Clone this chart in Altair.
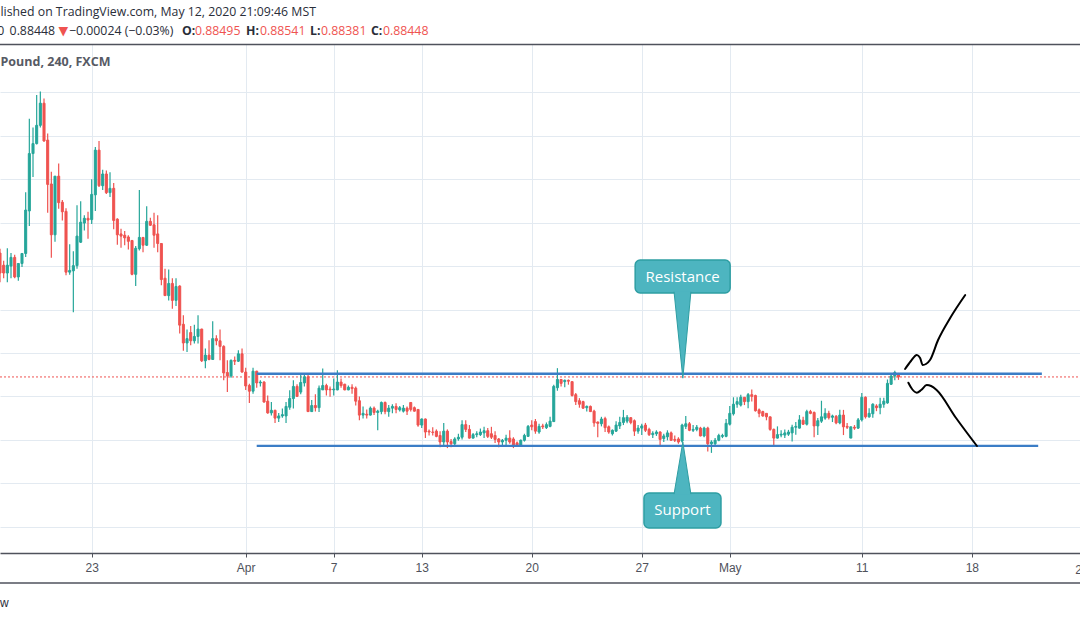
import altair as alt
import pandas as pd

# ---------------- candle data (EURGBP 4h, index = candle number) ----------------
opens = [
    0.9130, 0.9102, 0.9084, 0.9100, 0.9120, 0.9075, 0.9106, 0.9129, 0.9227, 0.9359,
    0.9382, 0.9424, 0.9475, 0.9390, 0.9289, 0.9172, 0.9307, 0.9247, 0.9226, 0.9086,
    0.9089, 0.9101, 0.9155, 0.9199, 0.9210, 0.9207, 0.9264, 0.9367, 0.9285, 0.9312,
    0.9269, 0.9279, 0.9208, 0.9174, 0.9171, 0.9167, 0.9159, 0.9081, 0.9140, 0.9166,
    0.9148, 0.9203, 0.9195, 0.9174, 0.9152, 0.9072, 0.9032, 0.9060, 0.9021, 0.9054,
    0.8966, 0.8923, 0.8947, 0.8928, 0.8938, 0.8955, 0.8882, 0.8895, 0.8885, 0.8933,
    0.8928, 0.8915, 0.8855, 0.8847, 0.8883, 0.8881, 0.8898, 0.8856, 0.8825, 0.8812,
    0.8858, 0.8831, 0.8833, 0.8789, 0.8762, 0.8768, 0.8750, 0.8755, 0.8755, 0.8775,
    0.8795, 0.8823, 0.8810, 0.8831, 0.8845, 0.8765, 0.8779, 0.8774, 0.8815, 0.8825,
    0.8817, 0.8815, 0.8815, 0.8833, 0.8828, 0.8815, 0.8821, 0.8819, 0.8790, 0.8757,
    0.8759, 0.8757, 0.8773, 0.8763, 0.8765, 0.8786, 0.8765, 0.8773, 0.8777, 0.8769,
    0.8766, 0.8773, 0.8786, 0.8774, 0.8770, 0.8734, 0.8748, 0.8720, 0.8718, 0.8720,
    0.8710, 0.8695, 0.8720, 0.8696, 0.8691, 0.8702, 0.8706, 0.8735, 0.8724, 0.8704,
    0.8712, 0.8712, 0.8716, 0.8721, 0.8714, 0.8710, 0.8702, 0.8695, 0.8699, 0.8704,
    0.8702, 0.8693, 0.8687, 0.8699, 0.8708, 0.8734, 0.8742, 0.8718, 0.8732, 0.8728,
    0.8731, 0.8742, 0.8820, 0.8839, 0.8834, 0.8837, 0.8834, 0.8804, 0.8790, 0.8788,
    0.8774, 0.8777, 0.8766, 0.8741, 0.8737, 0.8749, 0.8730, 0.8714, 0.8720, 0.8732,
    0.8740, 0.8743, 0.8751, 0.8744, 0.8720, 0.8727, 0.8734, 0.8724, 0.8712, 0.8714,
    0.8718, 0.8703, 0.8707, 0.8716, 0.8701, 0.8702, 0.8697, 0.8731, 0.8737, 0.8722,
    0.8724, 0.8727, 0.8709, 0.8727, 0.8691, 0.8691, 0.8699, 0.8708, 0.8708, 0.8736,
    0.8760, 0.8782, 0.8780, 0.8798, 0.8788, 0.8804, 0.8802, 0.8769, 0.8765, 0.8761,
    0.8753, 0.8724, 0.8704, 0.8711, 0.8711, 0.8713, 0.8716, 0.8729, 0.8727, 0.8745,
    0.8736, 0.8765, 0.8763, 0.8732, 0.8743, 0.8750, 0.8761, 0.8752, 0.8754, 0.8739,
    0.8757, 0.8731, 0.8704, 0.8729, 0.8727, 0.8746, 0.8798, 0.8753, 0.8760, 0.8778,
    0.8774, 0.8782, 0.8785, 0.8828, 0.8847, 0.88495,
]
highs = [
    0.9140, 0.9112, 0.9141, 0.9130, 0.9126, 0.9106, 0.9129, 0.9270, 0.9439, 0.9419,
    0.9494, 0.9502, 0.9486, 0.9405, 0.9317, 0.9307, 0.9336, 0.9252, 0.9233, 0.9150,
    0.9134, 0.9240, 0.9249, 0.9217, 0.9225, 0.9300, 0.9374, 0.9388, 0.9322, 0.9320,
    0.9316, 0.9291, 0.9210, 0.9186, 0.9181, 0.9171, 0.9160, 0.9146, 0.9275, 0.9167,
    0.9238, 0.9211, 0.9223, 0.9217, 0.9153, 0.9094, 0.9092, 0.9072, 0.9072, 0.9056,
    0.8987, 0.8954, 0.8962, 0.8965, 0.8987, 0.8956, 0.8910, 0.8929, 0.8973, 0.8941,
    0.8954, 0.8918, 0.8883, 0.8885, 0.8892, 0.8906, 0.8910, 0.8866, 0.8829, 0.8866,
    0.8859, 0.8837, 0.8835, 0.8802, 0.8787, 0.8769, 0.8762, 0.8772, 0.8787, 0.8814,
    0.8837, 0.8828, 0.8850, 0.8850, 0.8849, 0.8792, 0.8805, 0.8825, 0.8864, 0.8829,
    0.8823, 0.8841, 0.8860, 0.8841, 0.8829, 0.8825, 0.8828, 0.8823, 0.8800, 0.8777,
    0.8770, 0.8777, 0.8777, 0.8769, 0.8788, 0.8788, 0.8780, 0.8782, 0.8784, 0.8778,
    0.8780, 0.8777, 0.8786, 0.8777, 0.8770, 0.8749, 0.8749, 0.8724, 0.8729, 0.8724,
    0.8720, 0.8739, 0.8724, 0.8702, 0.8706, 0.8714, 0.8745, 0.8745, 0.8734, 0.8716,
    0.8720, 0.8726, 0.8730, 0.8727, 0.8730, 0.8720, 0.8704, 0.8702, 0.8712, 0.8722,
    0.8706, 0.8696, 0.8701, 0.8714, 0.8734, 0.8745, 0.8748, 0.8737, 0.8737, 0.8740,
    0.8753, 0.8827, 0.8865, 0.8840, 0.8839, 0.8839, 0.8834, 0.8808, 0.8796, 0.8790,
    0.8779, 0.8779, 0.8769, 0.8742, 0.8753, 0.8753, 0.8733, 0.8724, 0.8743, 0.8753,
    0.8769, 0.8757, 0.8752, 0.8747, 0.8734, 0.8737, 0.8739, 0.8728, 0.8720, 0.8722,
    0.8720, 0.8714, 0.8722, 0.8719, 0.8710, 0.8706, 0.8737, 0.8755, 0.8741, 0.8734,
    0.8734, 0.8730, 0.8730, 0.8730, 0.8699, 0.8704, 0.8714, 0.8714, 0.8748, 0.8778,
    0.8798, 0.8798, 0.8804, 0.8798, 0.8808, 0.8816, 0.8804, 0.8772, 0.8767, 0.8761,
    0.8753, 0.8726, 0.8731, 0.8722, 0.8724, 0.8723, 0.8735, 0.8741, 0.8757, 0.8753,
    0.8769, 0.8769, 0.8765, 0.8750, 0.8790, 0.8773, 0.8767, 0.8758, 0.8757, 0.8769,
    0.8769, 0.8739, 0.8730, 0.8734, 0.8750, 0.8808, 0.8800, 0.8773, 0.8784, 0.8782,
    0.8797, 0.8797, 0.8839, 0.8851, 0.8859, 0.88541,
]
lows = [
    0.9063, 0.9072, 0.9063, 0.9072, 0.9072, 0.9066, 0.9098, 0.9121, 0.9192, 0.9305,
    0.9380, 0.9419, 0.9386, 0.9223, 0.9119, 0.9156, 0.9232, 0.9205, 0.9079, 0.9080,
    0.8994, 0.9094, 0.9153, 0.9182, 0.9163, 0.9197, 0.9227, 0.9282, 0.9275, 0.9266,
    0.9259, 0.9185, 0.9149, 0.9142, 0.9148, 0.9138, 0.9079, 0.9054, 0.9136, 0.9132,
    0.9146, 0.9192, 0.9142, 0.9132, 0.9056, 0.9031, 0.9021, 0.9002, 0.9008, 0.8945,
    0.8905, 0.8902, 0.8918, 0.8922, 0.8922, 0.8879, 0.8865, 0.8883, 0.8884, 0.8918,
    0.8883, 0.8837, 0.8810, 0.8843, 0.8872, 0.8879, 0.8855, 0.8815, 0.8785, 0.8806,
    0.8820, 0.8823, 0.8786, 0.8760, 0.8756, 0.8739, 0.8741, 0.8751, 0.8739, 0.8769,
    0.8772, 0.8799, 0.8805, 0.8823, 0.8764, 0.8764, 0.8765, 0.8764, 0.8815, 0.8802,
    0.8799, 0.8802, 0.8814, 0.8820, 0.8814, 0.8814, 0.8806, 0.8779, 0.8745, 0.8749,
    0.8749, 0.8756, 0.8757, 0.8722, 0.8759, 0.8759, 0.8753, 0.8761, 0.8761, 0.8765,
    0.8763, 0.8757, 0.8765, 0.8765, 0.8730, 0.8727, 0.8704, 0.8710, 0.8710, 0.8706,
    0.8683, 0.8687, 0.8681, 0.8683, 0.8688, 0.8698, 0.8701, 0.8718, 0.8703, 0.8703,
    0.8706, 0.8709, 0.8704, 0.8704, 0.8702, 0.8693, 0.8683, 0.8685, 0.8686, 0.8691,
    0.8681, 0.8685, 0.8685, 0.8696, 0.8707, 0.8722, 0.8714, 0.8714, 0.8725, 0.8725,
    0.8729, 0.8741, 0.8813, 0.8823, 0.8821, 0.8827, 0.8800, 0.8780, 0.8774, 0.8771,
    0.8765, 0.8764, 0.8730, 0.8706, 0.8731, 0.8718, 0.8714, 0.8710, 0.8718, 0.8725,
    0.8734, 0.8738, 0.8736, 0.8709, 0.8714, 0.8711, 0.8718, 0.8709, 0.8704, 0.8709,
    0.8687, 0.8695, 0.8699, 0.8698, 0.8695, 0.8691, 0.8694, 0.8725, 0.8720, 0.8718,
    0.8720, 0.8708, 0.8706, 0.8673, 0.8670, 0.8685, 0.8697, 0.8704, 0.8706, 0.8733,
    0.8756, 0.8774, 0.8777, 0.8780, 0.8773, 0.8788, 0.8765, 0.8752, 0.8753, 0.8745,
    0.8721, 0.8687, 0.8703, 0.8706, 0.8704, 0.8709, 0.8696, 0.8712, 0.8726, 0.8734,
    0.8733, 0.8759, 0.8706, 0.8711, 0.8739, 0.8746, 0.8747, 0.8741, 0.8736, 0.8736,
    0.8711, 0.8725, 0.8704, 0.8723, 0.8725, 0.8742, 0.8749, 0.8751, 0.8751, 0.8766,
    0.8759, 0.8774, 0.8783, 0.8826, 0.8837, 0.88381,
]
closes = [
    0.9084, 0.9084, 0.9102, 0.9120, 0.9075, 0.9106, 0.9129, 0.9229, 0.9359, 0.9382,
    0.9424, 0.9475, 0.9388, 0.9288, 0.9172, 0.9307, 0.9246, 0.9225, 0.9086, 0.9090,
    0.9101, 0.9169, 0.9201, 0.9210, 0.9206, 0.9265, 0.9367, 0.9285, 0.9312, 0.9269,
    0.9279, 0.9205, 0.9172, 0.9169, 0.9165, 0.9157, 0.9081, 0.9141, 0.9166, 0.9148,
    0.9203, 0.9194, 0.9171, 0.9152, 0.9069, 0.9032, 0.9060, 0.9021, 0.9053, 0.8964,
    0.8923, 0.8933, 0.8928, 0.8938, 0.8955, 0.8882, 0.8895, 0.8885, 0.8933, 0.8928,
    0.8915, 0.8854, 0.8847, 0.8883, 0.8881, 0.8898, 0.8856, 0.8824, 0.8812, 0.8858,
    0.8831, 0.8833, 0.8787, 0.8762, 0.8768, 0.8750, 0.8755, 0.8758, 0.8777, 0.8795,
    0.8823, 0.8800, 0.8832, 0.8845, 0.8765, 0.8779, 0.8774, 0.8819, 0.8825, 0.8815,
    0.8815, 0.8817, 0.8833, 0.8825, 0.8815, 0.8821, 0.8818, 0.8789, 0.8757, 0.8761,
    0.8757, 0.8773, 0.8763, 0.8766, 0.8786, 0.8765, 0.8773, 0.8777, 0.8770, 0.8774,
    0.8773, 0.8766, 0.8770, 0.8766, 0.8734, 0.8748, 0.8718, 0.8718, 0.8717, 0.8708,
    0.8695, 0.8720, 0.8695, 0.8691, 0.8702, 0.8706, 0.8735, 0.8724, 0.8704, 0.8712,
    0.8714, 0.8718, 0.8721, 0.8708, 0.8706, 0.8701, 0.8695, 0.8699, 0.8704, 0.8695,
    0.8687, 0.8687, 0.8699, 0.8710, 0.8731, 0.8730, 0.8720, 0.8731, 0.8730, 0.8735,
    0.8743, 0.8823, 0.8839, 0.8830, 0.8837, 0.8835, 0.8802, 0.8788, 0.8782, 0.8773,
    0.8777, 0.8765, 0.8739, 0.8738, 0.8748, 0.8728, 0.8718, 0.8722, 0.8734, 0.8740,
    0.8751, 0.8752, 0.8740, 0.8720, 0.8727, 0.8732, 0.8722, 0.8712, 0.8715, 0.8718,
    0.8701, 0.8709, 0.8716, 0.8699, 0.8699, 0.8695, 0.8734, 0.8737, 0.8722, 0.8724,
    0.8729, 0.8709, 0.8727, 0.8691, 0.8695, 0.8699, 0.8710, 0.8710, 0.8738, 0.8761,
    0.8782, 0.8788, 0.8798, 0.8788, 0.8804, 0.8800, 0.8767, 0.8761, 0.8755, 0.8753,
    0.8724, 0.8704, 0.8712, 0.8713, 0.8716, 0.8718, 0.8729, 0.8731, 0.8746, 0.8736,
    0.8765, 0.8761, 0.8732, 0.8744, 0.8753, 0.8761, 0.8751, 0.8755, 0.8739, 0.8757,
    0.8730, 0.8729, 0.8730, 0.8727, 0.8746, 0.8798, 0.8753, 0.8761, 0.8782, 0.8774,
    0.8782, 0.8789, 0.8830, 0.8847, 0.8855, 0.88448,
]

# ---------------- axis / levels / drawings ----------------
tick_pos = [25, 67, 91, 115, 145, 175, 199, 235, 265, 295]
tick_labels = ["23", "Apr", "7", "13", "20", "27", "May", "11", "18", "25"]
grid_prices = [0.85, 0.86, 0.87, 0.88, 0.89, 0.90, 0.91, 0.92, 0.93, 0.94, 0.95]

last_price = 0.88448
level_names = ["Resistance", "Support"]
level_price = [0.8852, 0.8686]
level_start = [70.0, 70.0]
level_end = [284.1, 283.1]

box_k0 = [173.2, 175.6]
box_k1 = [199.1, 196.6]
box_p0 = [0.9038, 0.84971]
box_p1 = [0.9114, 0.85776]
label_k = [186.15, 186.1]
label_p = [0.9076, 0.85374]
ptr_base_p = [0.9041, 0.8575]
ptr_apex_p = [0.8842, 0.8695]
ptr_left_k = [183.8, 183.8]
ptr_right_k = [188.4, 188.4]
ptr_apex_k = [186.2, 186.2]

up_k = [246.8, 248.4, 250.0, 250.9, 251.6, 252.5, 253.6, 255.8, 259.1, 263.2]
up_p = [0.88631, 0.88815, 0.88953, 0.88884, 0.88723, 0.88746, 0.88838, 0.89298, 0.89805, 0.90334]
dn_k = [247.7, 248.7, 250.0, 251.2, 252.7, 253.9, 255.4, 260.7, 266.4]
dn_p = [0.88315, 0.88170, 0.88085, 0.88147, 0.88262, 0.88239, 0.88147, 0.87503, 0.86858]

TEAL = "#26a69a"
RED = "#ef5350"
GRID = "#e3eaf1"
BLUE = "#3b7dc6"
CALLOUT = "#4db5c0"
CALLOUT_EDGE = "#2e9ea3"
FONT = "Open Sans"

# ---------------- frames ----------------
n = len(opens)
candles = pd.DataFrame({"k": list(range(n)), "o": opens, "h": highs, "l": lows, "c": closes})
candles["dir"] = ["up" if c >= o else "down" for o, c in zip(opens, closes)]
candles["k0"] = candles["k"] - 0.28
candles["k1"] = candles["k"] + 0.28

levels = pd.DataFrame({"name": level_names, "p": level_price, "k0": level_start, "k1": level_end})
pline = pd.DataFrame({"p": [last_price], "k0": [0.0], "k1": [294.5]})
boxes = pd.DataFrame({"name": level_names, "k0": box_k0, "k1": box_k1, "p0": box_p0, "p1": box_p1,
                      "lk": label_k, "lp": label_p})
tri_rows, edge_rows = [], []
for i, nm in enumerate(level_names):
    tri_rows.append({"name": nm, "p": ptr_base_p[i], "xl": ptr_left_k[i], "xr": ptr_right_k[i]})
    tri_rows.append({"name": nm, "p": ptr_apex_p[i], "xl": ptr_apex_k[i], "xr": ptr_apex_k[i]})
    edge_rows.append({"name": nm, "i": 0, "k": ptr_left_k[i], "p": ptr_base_p[i]})
    edge_rows.append({"name": nm, "i": 1, "k": ptr_apex_k[i], "p": ptr_apex_p[i]})
    edge_rows.append({"name": nm, "i": 2, "k": ptr_right_k[i], "p": ptr_base_p[i]})
tris = pd.DataFrame(tri_rows)
edges = pd.DataFrame(edge_rows)
sq = pd.DataFrame(
    [{"s": "up", "i": i, "k": k, "p": p} for i, (k, p) in enumerate(zip(up_k, up_p))]
    + [{"s": "down", "i": i, "k": k, "p": p} for i, (k, p) in enumerate(zip(dn_k, dn_p))]
)
one = pd.DataFrame({"z": [0]})

# ---------------- scales / axes ----------------
XS = alt.Scale(domain=[0, 294.5], nice=False, zero=False)
YS = alt.Scale(domain=[0.843951, 0.961123], nice=False, zero=False)
expr = ""
for v, t in zip(tick_pos, tick_labels):
    expr += f"datum.value == {v} ? '{t}' : "
expr += "''"
XAX = alt.Axis(values=tick_pos, labelExpr=expr, title=None, grid=True, gridColor=GRID,
               gridWidth=1, domainColor="#4f525c", domainWidth=1.6, tickColor="#4f525c",
               tickSize=4, tickWidth=1, labelPadding=5, labelFont="Liberation Sans",
               labelFontSize=12, labelColor="#4f525c", labelFlush=False, labelOverlap=False)
YAX = alt.Axis(values=grid_prices, title=None, grid=True, gridColor=GRID, gridWidth=1,
               labels=False, ticks=False, domain=False)


def X(f):
    return alt.X(f, type="quantitative", scale=XS, axis=XAX)


def Y(f):
    return alt.Y(f, type="quantitative", scale=YS, axis=YAX)


COL = alt.Color("dir:N", scale=alt.Scale(domain=["up", "down"], range=[TEAL, RED]), legend=None)
STK = alt.Stroke("dir:N", scale=alt.Scale(domain=["up", "down"], range=[TEAL, RED]), legend=None)

price_line = alt.Chart(pline).mark_rule(color=RED, strokeWidth=1, strokeDash=[2, 2]).encode(
    x=X("k0"), x2="k1", y=Y("p"))
wicks = alt.Chart(candles).mark_rule(strokeWidth=1.2).encode(x=X("k"), y=Y("l"), y2="h", color=COL)
bodies = alt.Chart(candles).mark_rect(strokeWidth=1).encode(
    x=X("k0"), x2="k1", y=Y("o"), y2="c", color=COL, stroke=STK)
lvl = alt.Chart(levels).mark_rule(color=BLUE, strokeWidth=2.4).encode(x=X("k0"), x2="k1", y=Y("p"))
squig = alt.Chart(sq).mark_line(color="#000000", strokeWidth=2, interpolate="monotone",
                                strokeCap="round").encode(
    x=X("k"), y=Y("p"), detail="s:N", order="i:Q")
box = alt.Chart(boxes).mark_rect(fill=CALLOUT, stroke=CALLOUT_EDGE, strokeWidth=1.5,
                                 cornerRadius=5).encode(x=X("k0"), x2="k1", y=Y("p0"), y2="p1")
tri = alt.Chart(tris).mark_area(orient="horizontal", color=CALLOUT).encode(
    y=Y("p"), x=X("xl"), x2="xr", detail="name:N")
edge = alt.Chart(edges).mark_line(color=CALLOUT_EDGE, strokeWidth=1).encode(
    x=X("k"), y=Y("p"), detail="name:N", order="i:Q")
box_text = alt.Chart(boxes).mark_text(color="white", font=FONT, fontSize=15, align="center",
                                      baseline="middle").encode(x=X("lk"), y=Y("lp"), text="name:N")

TOP = 44


def txt(s, x, y, color="#2a2e39", size=12.3, weight="normal", align="left", font=FONT):
    return alt.Chart(one).mark_text(text=s, align=align, baseline="alphabetic", font=font,
                                    fontSize=size, fontWeight=weight, color=color).encode(
        x=alt.value(x), y=alt.value(y - TOP))


texts = [
    txt("lished on TradingView.com, May 12, 2020 21:09:46 MST", 0.5, 16),
    txt("240", 4.3, 35, align="right"),
    txt("0.88448", 9.6, 35),
    txt("▼", 58.5, 35, color=RED, size=12.5, font="DejaVu Sans"),
    txt("−0.00024 (−0.03%)", 69, 35),
    txt("O:", 182, 35, weight="bold"),
    txt("0.88495", 195, 35, color=RED),
    txt("H:", 246, 35, weight="bold"),
    txt("0.88541", 260, 35, color=RED),
    txt("L:", 310, 35, weight="bold"),
    txt("0.88381", 321, 35, color=RED),
    txt("C:", 371, 35, weight="bold"),
    txt("0.88448", 383, 35, color=RED),
    txt("Pound, 240, FXCM", 0.5, 65.5, color="#575a64", size=12.5, weight="bold"),
    txt("25", 1082, 573.5, color="#4f525c", size=12, align="center", font="Liberation Sans"),
    txt("w", 0, 607, color="#2a2e39", size=12, font="Liberation Sans"),
]

top_line = alt.Chart(one).mark_rule(color="#4f525c", strokeWidth=1.5).encode(
    x=alt.value(0), x2=alt.value(1080), y=alt.value(0.5))
bottom_line = alt.Chart(one).mark_rule(color="#4f525c", strokeWidth=1.6).encode(
    x=alt.value(0), x2=alt.value(1080), y=alt.value(583 - TOP))

chart = alt.layer(
    price_line, wicks, bodies, lvl, squig, box, tri, edge, box_text, top_line, bottom_line, *texts
).properties(
    width=1080, height=509,
    autosize=alt.AutoSizeParams(type="none"),
    padding={"left": 0, "top": TOP, "right": 0, "bottom": 65},
    background="white",
).configure_view(stroke=None)

chart.save("out.html", embed_options={"renderer": "svg", "actions": False})
